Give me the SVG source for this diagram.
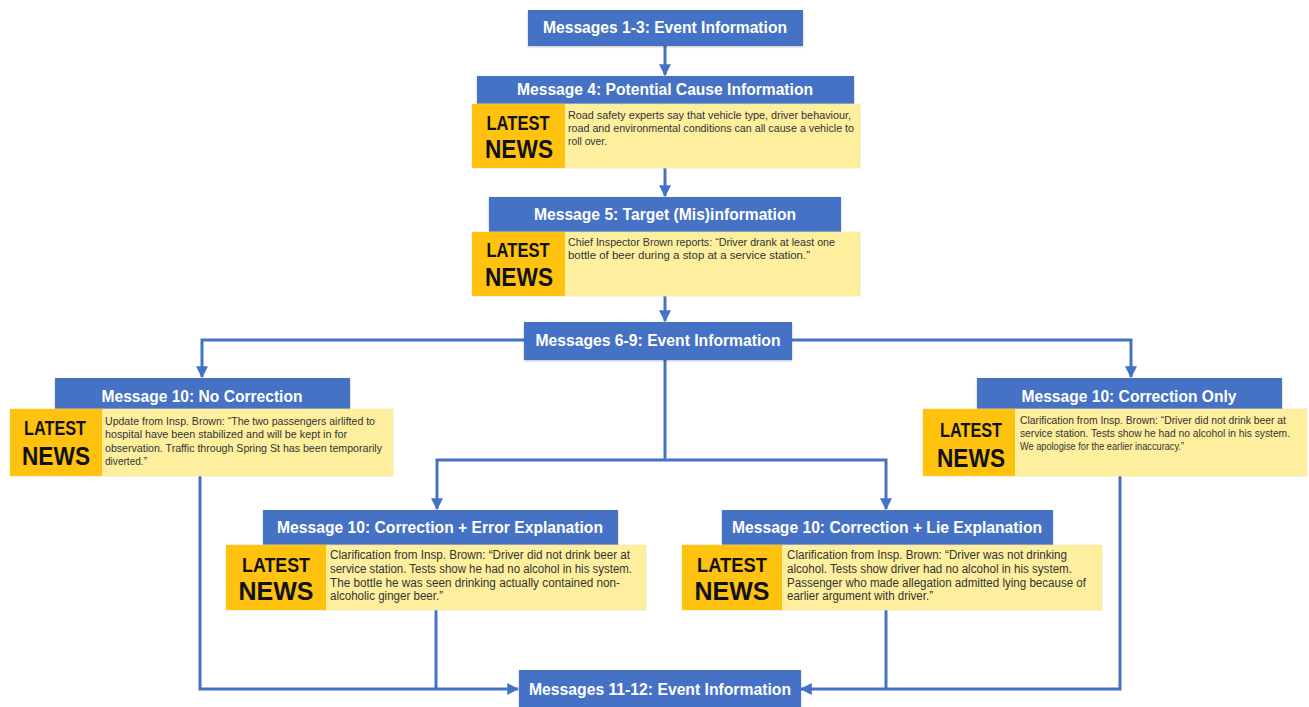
<svg xmlns="http://www.w3.org/2000/svg" width="1309" height="707" viewBox="0 0 1309 707">
<style>
.hdr{fill:#4472C4;filter:url(#sh)}
.ht{fill:#fff;font-family:"Liberation Sans",Arial,sans-serif;font-weight:bold;font-size:16px;text-anchor:middle}
.pan{fill:#FEEF9E;stroke:#F3E6A8;stroke-width:0.8}
.org{fill:#FFC20E}
.lt{fill:#111;font-family:"Liberation Sans",Arial,sans-serif;font-weight:bold;font-size:20px;text-anchor:middle}
.nw{fill:#111;font-family:"Liberation Sans",Arial,sans-serif;font-weight:bold;font-size:26px;text-anchor:middle}
.bt{fill:#333;font-family:"Liberation Sans",Arial,sans-serif;font-size:11px}
.bt2{fill:#333;font-family:"Liberation Sans",Arial,sans-serif;font-size:12px}
.cn{fill:none;stroke:#4472C4;stroke-width:3}
</style>
<defs>
<filter id="sh" x="-5%" y="-10%" width="110%" height="130%">
<feDropShadow dx="0" dy="1" stdDeviation="1" flood-color="#000" flood-opacity="0.25"/>
</filter>
<marker id="ah" viewBox="0 0 10 10" refX="9" refY="5" markerWidth="4" markerHeight="4" orient="auto" markerUnits="strokeWidth">
<path d="M0,0 L10,5 L0,10 z" fill="#4472C4"/>
</marker>
</defs>

<g id="connectors">
<line class="cn" x1="665" y1="46" x2="665" y2="75" marker-end="url(#ah)"/>
<line class="cn" x1="665" y1="168" x2="665" y2="196" marker-end="url(#ah)"/>
<line class="cn" x1="665" y1="296" x2="665" y2="321" marker-end="url(#ah)"/>
<polyline class="cn" points="524,340 202,340 202,377" marker-end="url(#ah)"/>
<polyline class="cn" points="792,340 1131,340 1131,377" marker-end="url(#ah)"/>
<line class="cn" x1="665" y1="360" x2="665" y2="460"/>
<polyline class="cn" points="665,460 437,460 437,509" marker-end="url(#ah)"/>
<polyline class="cn" points="665,460 886,460 886,509" marker-end="url(#ah)"/>
<polyline class="cn" points="200,476 200,689 518,689" marker-end="url(#ah)"/>
<line class="cn" x1="436" y1="610" x2="436" y2="689"/>
<polyline class="cn" points="1120,476 1120,689 801,689" marker-end="url(#ah)"/>
<line class="cn" x1="886" y1="610" x2="886" y2="689"/>
</g>

<g id="m1-3">
<rect class="hdr" x="528" y="10" width="275" height="36"/>
<text class="ht" x="665" y="33" textLength="244" lengthAdjust="spacingAndGlyphs">Messages 1-3: Event Information</text>
</g>

<g id="m4">
<rect class="hdr" x="477" y="76" width="377" height="28"/>
<text class="ht" x="665" y="95" textLength="296" lengthAdjust="spacingAndGlyphs">Message 4: Potential Cause Information</text>
<rect class="pan" x="472" y="104" width="388" height="64"/>
<rect class="org" x="472" y="104" width="93" height="64"/>
<text class="lt" x="518" y="130" textLength="63" lengthAdjust="spacingAndGlyphs">LATEST</text>
<text class="nw" x="519" y="158" textLength="68" lengthAdjust="spacingAndGlyphs">NEWS</text>
<text class="bt" x="568" y="119" textLength="283" lengthAdjust="spacingAndGlyphs">Road safety experts say that vehicle type, driver behaviour,</text>
<text class="bt" x="568" y="132" textLength="286" lengthAdjust="spacingAndGlyphs">road and environmental conditions can all cause a vehicle to</text>
<text class="bt" x="568" y="145" textLength="39" lengthAdjust="spacingAndGlyphs">roll over.</text>
</g>

<g id="m5">
<rect class="hdr" x="489" y="197" width="352" height="35"/>
<text class="ht" x="665" y="220" textLength="262" lengthAdjust="spacingAndGlyphs">Message 5: Target (Mis)information</text>
<rect class="pan" x="472" y="232" width="388" height="64"/>
<rect class="org" x="472" y="232" width="93" height="64"/>
<text class="lt" x="518" y="257" textLength="63" lengthAdjust="spacingAndGlyphs">LATEST</text>
<text class="nw" x="519" y="286" textLength="68" lengthAdjust="spacingAndGlyphs">NEWS</text>
<text class="bt" x="568" y="246" textLength="267" lengthAdjust="spacingAndGlyphs">Chief Inspector Brown reports: “Driver drank at least one</text>
<text class="bt" x="568" y="259" textLength="242" lengthAdjust="spacingAndGlyphs">bottle of beer during a stop at a service station.”</text>
</g>

<g id="m6-9">
<rect class="hdr" x="524" y="322" width="268" height="38"/>
<text class="ht" x="658" y="346" textLength="245" lengthAdjust="spacingAndGlyphs">Messages 6-9: Event Information</text>
</g>

<g id="m10-no-correction">
<rect class="hdr" x="55" y="378" width="295" height="31"/>
<text class="ht" x="202" y="402" textLength="201" lengthAdjust="spacingAndGlyphs">Message 10: No Correction</text>
<rect class="pan" x="10" y="409" width="383" height="67"/>
<rect class="org" x="10" y="409" width="92" height="67"/>
<text class="lt" x="55" y="435" textLength="62" lengthAdjust="spacingAndGlyphs">LATEST</text>
<text class="nw" x="56" y="465" textLength="68" lengthAdjust="spacingAndGlyphs">NEWS</text>
<text class="bt" x="105" y="425" textLength="270" lengthAdjust="spacingAndGlyphs">Update from Insp. Brown: “The two passengers airlifted to</text>
<text class="bt" x="105" y="438" textLength="242" lengthAdjust="spacingAndGlyphs">hospital have been stabilized and will be kept in for</text>
<text class="bt" x="105" y="452" textLength="277" lengthAdjust="spacingAndGlyphs">observation. Traffic through Spring St has been temporarily</text>
<text class="bt" x="105" y="465" textLength="42" lengthAdjust="spacingAndGlyphs">diverted.”</text>
</g>

<g id="m10-correction-only">
<rect class="hdr" x="977" y="378" width="305" height="31"/>
<text class="ht" x="1129" y="402" textLength="215" lengthAdjust="spacingAndGlyphs">Message 10: Correction Only</text>
<rect class="pan" x="923" y="409" width="384" height="67"/>
<rect class="org" x="923" y="409" width="92" height="67"/>
<text class="lt" x="971" y="437" textLength="62" lengthAdjust="spacingAndGlyphs">LATEST</text>
<text class="nw" x="971" y="467" textLength="68" lengthAdjust="spacingAndGlyphs">NEWS</text>
<text class="bt" x="1020" y="424" textLength="266" lengthAdjust="spacingAndGlyphs">Clarification from Insp. Brown: “Driver did not drink beer at</text>
<text class="bt" x="1020" y="437" textLength="270" lengthAdjust="spacingAndGlyphs">service station. Tests show he had no alcohol in his system.</text>
<text class="bt" x="1020" y="450" textLength="164" lengthAdjust="spacingAndGlyphs">We apologise for the earlier inaccuracy.”</text>
</g>

<g id="m10-error">
<rect class="hdr" x="263" y="510" width="355" height="35"/>
<text class="ht" x="440" y="533" textLength="326" lengthAdjust="spacingAndGlyphs">Message 10: Correction + Error Explanation</text>
<rect class="pan" x="226" y="545" width="420" height="65"/>
<rect class="org" x="226" y="545" width="100" height="65"/>
<text class="lt" x="276" y="572" textLength="68" lengthAdjust="spacingAndGlyphs">LATEST</text>
<text class="nw" x="276" y="600" textLength="75" lengthAdjust="spacingAndGlyphs">NEWS</text>
<text class="bt2" x="330" y="559" textLength="300" lengthAdjust="spacingAndGlyphs">Clarification from Insp. Brown: “Driver did not drink beer at</text>
<text class="bt2" x="330" y="573" textLength="302" lengthAdjust="spacingAndGlyphs">service station. Tests show he had no alcohol in his system.</text>
<text class="bt2" x="330" y="587" textLength="290" lengthAdjust="spacingAndGlyphs">The bottle he was seen drinking actually contained non-</text>
<text class="bt2" x="330" y="600" textLength="113" lengthAdjust="spacingAndGlyphs">alcoholic ginger beer.”</text>
</g>

<g id="m10-lie">
<rect class="hdr" x="722" y="510" width="331" height="35"/>
<text class="ht" x="887" y="533" textLength="310" lengthAdjust="spacingAndGlyphs">Message 10: Correction + Lie Explanation</text>
<rect class="pan" x="682" y="545" width="420" height="65"/>
<rect class="org" x="682" y="545" width="100" height="65"/>
<text class="lt" x="732" y="572" textLength="70" lengthAdjust="spacingAndGlyphs">LATEST</text>
<text class="nw" x="732" y="600" textLength="75" lengthAdjust="spacingAndGlyphs">NEWS</text>
<text class="bt2" x="787" y="559" textLength="280" lengthAdjust="spacingAndGlyphs">Clarification from Insp. Brown: “Driver was not drinking</text>
<text class="bt2" x="787" y="573" textLength="285" lengthAdjust="spacingAndGlyphs">alcohol. Tests show driver had no alcohol in his system.</text>
<text class="bt2" x="787" y="587" textLength="299" lengthAdjust="spacingAndGlyphs">Passenger who made allegation admitted lying because of</text>
<text class="bt2" x="787" y="600" textLength="146" lengthAdjust="spacingAndGlyphs">earlier argument with driver.”</text>
</g>

<g id="m11-12">
<rect class="hdr" x="519" y="670" width="282" height="40"/>
<text class="ht" x="660" y="695" textLength="262" lengthAdjust="spacingAndGlyphs">Messages 11-12: Event Information</text>
</g>
</svg>
